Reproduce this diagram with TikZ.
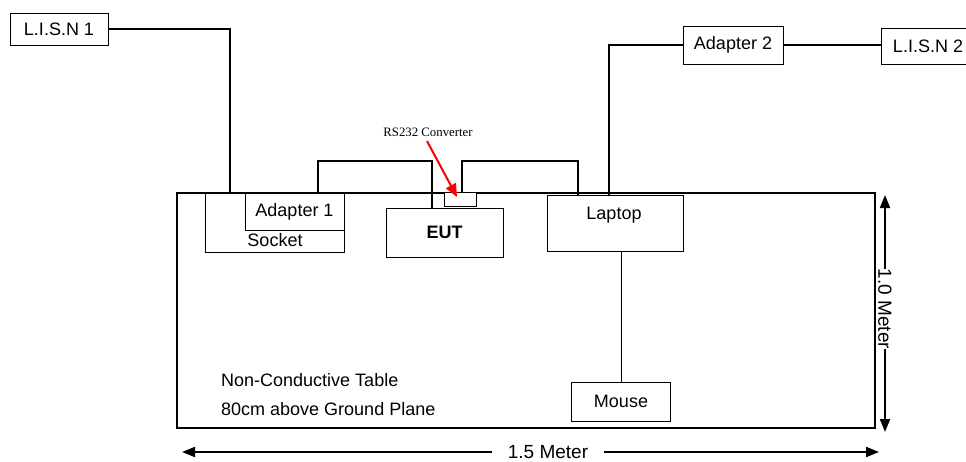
\documentclass[tikz,border=0pt]{standalone}
\usepackage{fontspec}
\setmainfont{Liberation Sans}
\newfontfamily\smallserif{Liberation Serif}
\usepackage{tikz}
\usetikzlibrary{arrows.meta}
\tikzset{
  box/.style={rectangle, draw=black, line width=1pt, inner sep=0pt},
  plain/.style={inner sep=0pt},
  cable/.style={line width=1.4pt},
  dimline/.style={line width=2pt, -{Triangle[length=13pt,width=10pt]}},
  dimlabel/.style={font=\fontsize{19}{22}\selectfont},
  every node/.style={font=\fontsize{18}{21}\selectfont}
}

\begin{document}
\begin{tikzpicture}[x=1pt, y=-1pt]
        \useasboundingbox (0,0) rectangle (966,461);

        % the table
        \draw[line width=2.5pt] (177,193) rectangle (875,428);

        \node[box, minimum width=98pt, minimum height=32pt] (lisn1) at (59,29) {L.I.S.N 1};
        \node[box, minimum width=139pt, minimum height=59pt] (sock) at (274.5,222.5) {};
        \node[plain] (socklbl) at (275,240) {Socket};
        \node[box, fill=white, minimum width=99pt, minimum height=37pt] (adap1) at (294.5,211.5) {Adapter 1};
        \node[box, minimum width=117pt, minimum height=49pt] (eut) at (444.5,232.5) {\bfseries EUT};
        \node[box, fill=white, minimum width=32pt, minimum height=14pt] (conv) at (460,199) {};
        \node[box, minimum width=136pt, minimum height=56pt] (laptop) at (615,223) {};
        \node[plain] (laptoplbl) at (614,215) {Laptop};
        \node[box, minimum width=100pt, minimum height=38pt] (adap2) at (733,45) {Adapter 2};
        \node[box, minimum width=94pt, minimum height=36pt] (lisn2) at (928,46) {L.I.S.N 2};
        \node[box, minimum width=99pt, minimum height=39pt] (mouse) at (621,401.5) {Mouse};

        \node[plain, anchor=west] (tbl1) at (221,380) {Non-Conductive Table};
        \node[plain, anchor=west] (tbl2) at (221,409) {80cm above Ground Plane};

        % cable ends
        \coordinate (sockin) at (230,193);
        \coordinate (a1out) at (318,193);
        \coordinate (eutin) at (432,208);
        \coordinate (convout) at (462,192);
        \coordinate (lapin) at (578,195);
        \coordinate (lapout) at (609,195);

        \draw[cable] (lisn1.east) -| (sockin);
        \draw[cable] (a1out) -- ++(0,-32) -| (eutin);
        \draw[cable] (convout) -- ++(0,-31) -| (lapin);
        \draw[cable] (lapout) |- (adap2.west);
        \draw[cable] (adap2.east) -- (adap2.east -| lisn2.west);
        \draw[line width=1pt] (mouse.north) -- (mouse.north |- laptop.south);

        % converter pointer
        \node[plain, font=\smallserif\fontsize{12.8}{15}\selectfont] (rslbl) at (428,132) {RS232 Converter};
        \coordinate (rstail) at (427,141);
        \draw[red, line width=2pt, -{Triangle[length=13pt,width=11pt]}] (rstail) -- (457,197);

        % dimensions
        \node[plain, dimlabel, inner xsep=0pt, inner ysep=2pt, rotate=-90] (hgt) at (885,309) {1.0 Meter};
        \coordinate (htop) at (885,195);
        \coordinate (hbot) at (885,432);
        \draw[dimline] (hgt.west) -- (htop);
        \draw[dimline] (hgt.east) -- (hbot);

        \node[plain, dimlabel, inner xsep=16pt] (wid) at (548,452) {1.5 Meter};
        \coordinate (wleft) at (182,452);
        \coordinate (wright) at (879,452);
        \draw[dimline] (wid.west) -- (wleft);
        \draw[dimline] (wid.east) -- (wright);
      \end{tikzpicture}
\end{document}
